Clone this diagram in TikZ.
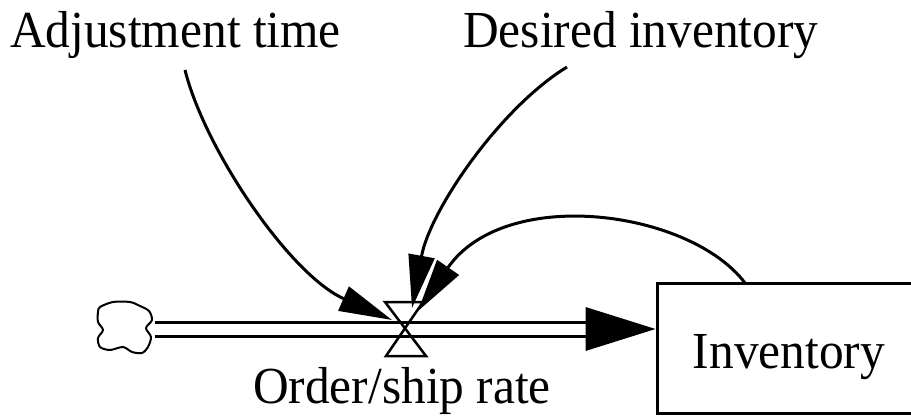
\documentclass[tikz,border=0pt]{standalone}
\usepackage{fontspec}
\newfontfamily\lab[FakeStretch=0.95]{Liberation Serif}
\usetikzlibrary{arrows.meta,calc}
\begin{document}
\begin{tikzpicture}[x=1pt,y=-1pt,
  lbl/.style={font=\lab\fontsize{52}{60}\selectfont, inner sep=0pt},
  conn/.style={line width=3pt, -{Triangle[length=53pt,width=26pt]}},
  pipeline/.style={line width=3pt, double=white, double distance=11pt},
  stock/.style={draw, line width=3pt, minimum width=258pt, minimum height=130pt, inner sep=0pt,
    text height=45pt, text depth=5pt, font=\lab\fontsize{52}{60}\selectfont}]
\useasboundingbox (0,0) rectangle (911,417);
% texts
\node[lbl, anchor=base west] (adj) at (10,48) {Adjustment time};
\node[lbl, anchor=base west] (des) at (463,48) {Desired inventory};
\node[lbl, anchor=base] (rate) at (402,403) {Order/ship rate};
% stock
\node[stock] (inv) at (786,348) {\hspace*{6pt}Inventory};
% cloud
\coordinate (cloud) at (125,328);
\draw[line width=2pt] plot[smooth cycle, tension=0.5] coordinates {
 (100,307) (113,302) (130,302) (140,306) (149,311) (152,320) (146,328) (151,337) (148,347) (142,353) (132,352) (123,347) (110,350) (100,347) (98,338) (103,330) (98,322) (98,312)};
% pipe
\coordinate (pipeA) at (155,329);
\coordinate (valve) at (405,329);
\coordinate (pipeB) at (inv.west |- valve);
\draw[pipeline] (pipeA) -- ($(pipeB)+(-68,0)$);
\fill ($(pipeB)+(-70,-22)$) -- (pipeB) -- ($(pipeB)+(-70,22)$) -- cycle;
% valve
\draw[line width=2.5pt, line join=miter] (385,302) -- (423,302) -- (386,356) -- (426,356) -- cycle;
% connectors
\coordinate (adjS) at (185,70);
\coordinate (adjT) at (392,320);
\coordinate (desS) at (567,67);
\coordinate (desT) at (412,308);
\coordinate (invS) at (745,283);
\coordinate (invT) at (418,311);
\draw[conn] (adjS) .. controls (205,150) and (290,275) .. (adjT);
\draw[conn] (desS) .. controls (500,108) and (430,210) .. (desT);
\draw[conn] (invS) .. controls (690,210) and (505,185) .. (invT);
\end{tikzpicture}
\end{document}
